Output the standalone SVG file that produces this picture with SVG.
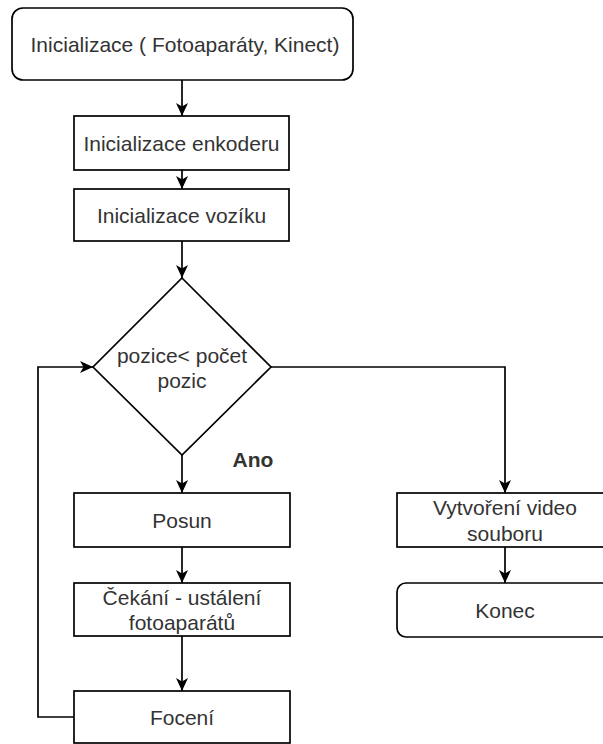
<svg xmlns="http://www.w3.org/2000/svg" width="603" height="744" viewBox="0 0 603 744">
<defs>
<marker id="arr" viewBox="0 0 13 13" refX="13" refY="6.5" markerWidth="13" markerHeight="13" markerUnits="userSpaceOnUse" orient="auto">
<path d="M0,0.5 L13,6.5 L0,12.5 L3.5,6.5 Z" fill="#000"/>
</marker>
<style>
.n{fill:#fff;stroke:#000;stroke-width:1.7}
.t{font-family:"Liberation Sans",Arial,sans-serif;font-size:21px;fill:#333;text-anchor:middle;dominant-baseline:central}
.c{fill:none;stroke:#000;stroke-width:1.7}
</style>
</defs>
<rect width="603" height="744" fill="#fff"/>
<g id="connectors">
<line class="c" x1="182" y1="80" x2="182" y2="116" marker-end="url(#arr)"/>
<line class="c" x1="182" y1="170" x2="182" y2="189" marker-end="url(#arr)"/>
<line class="c" x1="182" y1="241" x2="182" y2="278" marker-end="url(#arr)"/>
<line class="c" x1="182" y1="455" x2="182" y2="493" marker-end="url(#arr)"/>
<line class="c" x1="182" y1="547" x2="182" y2="583" marker-end="url(#arr)"/>
<line class="c" x1="182" y1="636" x2="182" y2="691" marker-end="url(#arr)"/>
<polyline class="c" points="74,717 38,717 38,367 93,367" marker-end="url(#arr)"/>
<polyline class="c" points="271,367 505,367 505,493" marker-end="url(#arr)"/>
<line class="c" x1="505" y1="547" x2="505" y2="583" marker-end="url(#arr)"/>
<text class="t" x="253" y="459" style="font-weight:bold">Ano</text>
</g>
<g id="start">
<rect class="n" x="12" y="8" width="341" height="72" rx="11"/>
<text class="t" x="185" y="44">Inicializace ( Fotoaparáty, Kinect)</text>
</g>
<g id="enkoder">
<rect class="n" x="74" y="116" width="215" height="54"/>
<text class="t" x="181.5" y="143">Inicializace enkoderu</text>
</g>
<g id="vozik">
<rect class="n" x="74" y="189" width="215" height="52"/>
<text class="t" x="181.5" y="215">Inicializace vozíku</text>
</g>
<g id="decision">
<polygon class="n" points="182,278 271,367 182,455 93,367"/>
<text class="t" x="182" y="355">pozice&lt; počet</text>
<text class="t" x="182" y="380">pozic</text>
</g>
<g id="posun">
<rect class="n" x="74" y="493" width="216" height="54"/>
<text class="t" x="182" y="520">Posun</text>
</g>
<g id="cekani">
<rect class="n" x="74" y="583" width="216" height="53"/>
<text class="t" x="182" y="597">Čekání - ustálení</text>
<text class="t" x="182" y="622">fotoaparátů</text>
</g>
<g id="foceni">
<rect class="n" x="74" y="691" width="216" height="52"/>
<text class="t" x="182" y="717">Focení</text>
</g>
<g id="video">
<rect class="n" x="397" y="493" width="216" height="54"/>
<text class="t" x="505" y="507">Vytvoření video</text>
<text class="t" x="505" y="533">souboru</text>
</g>
<g id="konec">
<rect class="n" x="397" y="583" width="216" height="54" rx="9"/>
<text class="t" x="505" y="610">Konec</text>
</g>
</svg>
